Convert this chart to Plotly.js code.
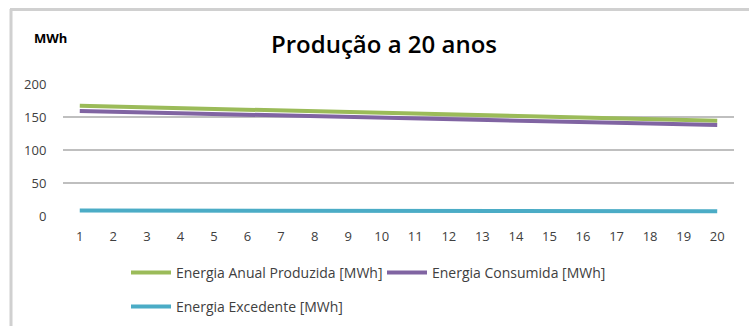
<!DOCTYPE html>
<html>
<head>
<meta charset="utf-8">
<script src="https://cdn.plot.ly/plotly-3.0.1.min.js"></script>
<style>
  html, body { margin: 0; padding: 0; background: #fff; }
  #chart { width: 749px; height: 326px; }
</style>
</head>
<body>
<div id="chart"></div>
<script>
const years = ['1','2','3','4','5','6','7','8','9','10','11','12','13','14','15','16','17','18','19','20'];
const produzida = [167, 165.8, 164.5, 163.3, 162, 160.8, 159.6, 158.4, 157.2, 156, 154.8, 153.6, 152.4, 151.2, 150.1, 148.9, 147.8, 146.6, 145.5, 144.4];
const consumida = [159, 157.8, 156.7, 155.5, 154.4, 153.2, 152.1, 151, 149.9, 148.8, 147.7, 146.6, 145.5, 144.4, 143.3, 142.2, 141.2, 140.1, 139, 138];
const excedente = [8.5, 8.4, 8.3, 8.3, 8.2, 8.1, 8.0, 8.0, 7.9, 7.8, 7.8, 7.7, 7.6, 7.6, 7.5, 7.4, 7.4, 7.3, 7.2, 7.2];
const yTicks = [0, 50, 100, 150, 200];

const W = 749, H = 326;
const mL = 63, mR = 15, mT = 84, mB = 110;
const pw = W - mL - mR, ph = H - mT - mB;
const px = x => (x - mL) / pw;
const py = y => (H - mB - y) / ph;

const font = "'Open Sans', 'DejaVu Sans', sans-serif";

const traces = [
  {x: years, y: produzida, name: 'Energia Anual Produzida [MWh]', type: 'scatter', mode: 'lines', line: {color: '#9bbb59', width: 4}, legend: 'legend'},
  {x: years, y: consumida, name: 'Energia Consumida [MWh]', type: 'scatter', mode: 'lines', line: {color: '#8064a2', width: 4}, legend: 'legend'},
  {x: years, y: excedente, name: 'Energia Excedente [MWh]', type: 'scatter', mode: 'lines', line: {color: '#4bacc6', width: 4}, legend: 'legend2'}
];

const legendFont = {family: font, size: 14, color: '#404040'};

const layout = {
  width: W, height: H,
  margin: {l: mL, r: mR, t: mT, b: mB, pad: 0, autoexpand: false},
  paper_bgcolor: '#ffffff', plot_bgcolor: '#ffffff',
  font: {family: font, size: 12, color: '#404040'},
  title: {text: 'Produção a 20 anos', font: {family: font, size: 24, weight: 600, color: '#000000'},
          x: 384 / W, xref: 'container', xanchor: 'center', y: 1 - 45 / H, yanchor: 'middle', yref: 'container'},
  xaxis: {type: 'category', range: [-0.5, 19.5], showgrid: false, zeroline: false,
          showline: false, ticks: 'outside', ticklen: 8, tickcolor: 'rgba(0,0,0,0)',
          tickfont: {family: font, size: 13, color: '#404040'}, fixedrange: true},
  yaxis: {range: [0, 200], tickvals: yTicks, ticktext: yTicks.map(String), showgrid: true,
          gridcolor: '#bfbfbf', gridwidth: 1.5, zeroline: false, showline: false,
          ticks: 'outside', ticklen: 13, tickcolor: 'rgba(0,0,0,0)',
          tickfont: {family: font, size: 13, color: '#404040'}, fixedrange: true},
  showlegend: true,
  legend: {orientation: 'h', x: px(126), xanchor: 'left', y: py(273), yanchor: 'middle',
           font: legendFont, itemwidth: 40, entrywidth: 201, bgcolor: 'rgba(0,0,0,0)'},
  legend2: {orientation: 'h', x: px(126), xanchor: 'left', y: py(307), yanchor: 'middle',
           font: legendFont, itemwidth: 40, bgcolor: 'rgba(0,0,0,0)'},
  annotations: [
    {text: '<b>MWh</b>', xref: 'paper', yref: 'paper', x: px(32), y: py(38), xanchor: 'left', yanchor: 'middle',
     showarrow: false, font: {family: font, size: 13, color: '#000000'}}
  ],
  shapes: [
    {type: 'line', xref: 'paper', yref: 'paper', x0: px(11), x1: px(11), y0: py(9), y1: py(330), line: {color: '#d0d0d0', width: 3}},
    {type: 'line', xref: 'paper', yref: 'paper', x0: px(10), x1: px(760), y0: py(9.5), y1: py(9.5), line: {color: '#d0d0d0', width: 3}}
  ]
};

Plotly.newPlot('chart', traces, layout, {displayModeBar: false, staticPlot: true});
</script>
</body>
</html>
